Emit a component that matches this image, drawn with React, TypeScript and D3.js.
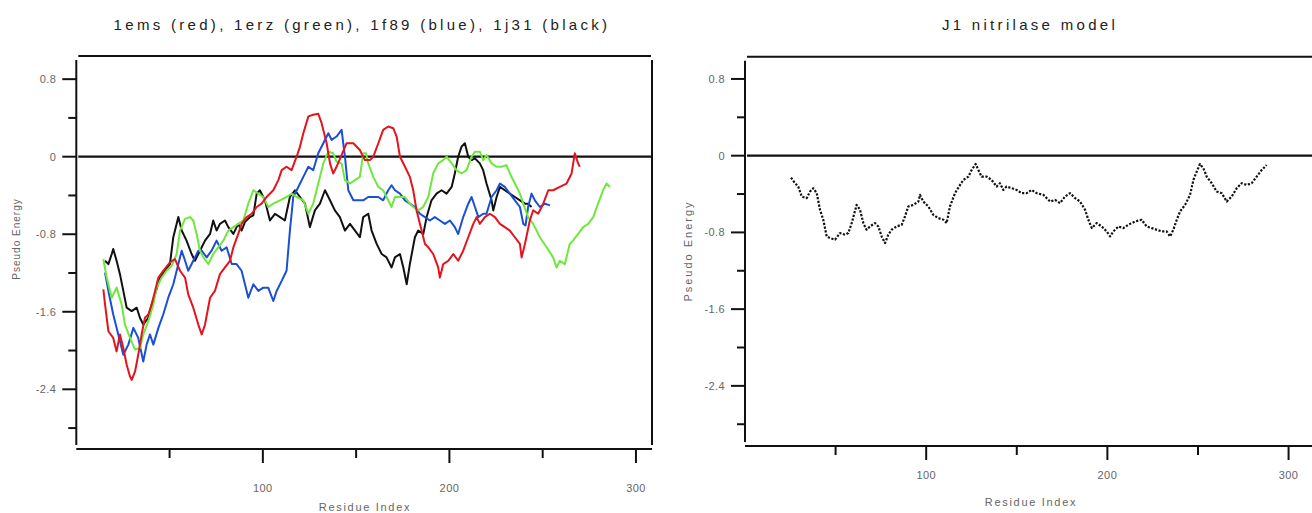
import React from "react";
import * as d3 from "d3";

// ---------- data (residue index, pseudo energy) ----------
const redRes = [14.5,15.4,17.2,19.8,21.6,23.4,25.2,27.0,28.8,29.7,31.5,33.2,35.0,36.8,38.6,40.4,42.2,44.0,46.6,50.2,52.9,55.6,58.3,60.0,62.7,65.4,67.2,69.0,71.7,74.3,77.0,79.7,82.4,84.2,86.8,88.6,91.3,94.0,96.7,99.3,102.0,105.6,108.3,110.1,112.7,115.4,118.1,119.9,121.7,124.4,127.0,129.7,131.5,134.2,136.0,137.7,139.5,142.2,144.9,148.5,152.0,154.7,157.4,159.2,161.9,164.5,167.2,169.9,171.7,173.5,176.2,178.8,180.6,182.4,185.1,186.9,188.7,191.3,194.0,194.9,196.7,199.4,202.1,204.7,207.4,210.1,212.8,214.6,216.3,219.0,221.7,224.4,227.1,229.7,232.4,235.1,237.8,238.7,240.5,243.1,244.9,247.6,250.3,253.0,255.6,259.2,262.8,265.5,267.2,269.0,269.9];
const redVal = [-1.368,-1.524,-1.801,-1.870,-2.009,-1.835,-1.974,-2.147,-2.268,-2.303,-2.216,-2.043,-1.835,-1.662,-1.628,-1.524,-1.385,-1.247,-1.177,-1.091,-1.056,-1.177,-1.247,-1.420,-1.558,-1.732,-1.835,-1.732,-1.455,-1.385,-1.212,-1.143,-1.074,-0.935,-0.797,-0.693,-0.623,-0.589,-0.519,-0.485,-0.416,-0.346,-0.242,-0.139,-0.104,-0.139,0.0,0.104,0.242,0.416,0.433,0.443,0.346,0.139,-0.069,-0.173,-0.104,0.017,0.139,0.139,0.069,-0.035,-0.035,0.0,0.139,0.277,0.312,0.294,0.208,0.0,-0.104,-0.208,-0.346,-0.554,-0.762,-0.900,-0.935,-1.004,-1.143,-1.247,-1.108,-1.074,-1.004,-1.074,-0.970,-0.831,-0.693,-0.623,-0.693,-0.623,-0.589,-0.623,-0.693,-0.727,-0.762,-0.831,-0.900,-1.039,-0.900,-0.658,-0.554,-0.589,-0.485,-0.346,-0.346,-0.312,-0.277,-0.173,0.035,-0.069,-0.104];

const greenRes = [14.5,16.3,19.0,21.6,24.3,26.1,28.8,31.5,34.1,35.9,38.6,41.3,43.1,45.8,48.4,51.1,53.8,55.6,58.3,60.9,62.7,64.5,66.3,68.1,70.8,73.4,76.1,78.8,81.5,84.2,86.8,89.5,92.2,94.9,97.6,100.2,102.9,105.6,109.2,112.7,115.4,118.1,121.7,124.4,127.0,129.7,132.4,135.1,137.7,139.5,142.2,144.0,146.7,149.4,152.0,153.8,155.3,156.5,159.2,161.9,164.5,167.2,169.0,170.8,173.5,176.2,178.8,180.6,183.3,185.9,188.7,191.3,194.0,196.7,198.5,201.2,203.8,206.5,209.2,211.9,213.7,216.3,218.1,219.9,222.6,225.3,227.9,230.6,232.4,235.1,237.8,239.6,242.2,244.9,248.5,252.1,255.6,257.4,259.2,261.9,264.5,266.3,269.0,271.7,274.4,277.1,279.7,282.4,284.2,286.0];
const greenVal = [-1.056,-1.247,-1.455,-1.351,-1.524,-1.732,-1.870,-1.991,-1.974,-1.835,-1.697,-1.524,-1.351,-1.247,-1.177,-1.126,-1.004,-0.762,-0.641,-0.623,-0.658,-0.797,-0.970,-1.039,-1.108,-1.004,-0.935,-0.866,-0.762,-0.727,-0.693,-0.658,-0.485,-0.346,-0.381,-0.416,-0.519,-0.485,-0.450,-0.416,-0.381,-0.416,-0.450,-0.589,-0.485,-0.277,-0.069,0.052,0.035,-0.052,-0.069,-0.242,-0.277,-0.242,-0.208,0.035,0.035,-0.069,-0.208,-0.312,-0.346,-0.450,-0.519,-0.416,-0.416,-0.416,-0.485,-0.519,-0.554,-0.519,-0.416,-0.173,-0.069,-0.035,0.0,-0.069,-0.139,-0.173,-0.139,0.0,0.052,0.052,-0.035,0.017,-0.069,-0.104,-0.104,-0.087,-0.173,-0.277,-0.381,-0.485,-0.623,-0.693,-0.831,-0.935,-1.039,-1.143,-1.074,-1.108,-0.900,-0.866,-0.797,-0.727,-0.693,-0.623,-0.485,-0.346,-0.277,-0.312];

const blueRes = [15.4,17.2,19.8,22.5,25.2,27.9,30.6,33.2,35.9,37.7,39.5,41.3,44.0,46.6,49.3,52.0,54.7,56.5,58.3,60.0,62.7,65.4,67.2,69.9,72.5,75.2,77.9,80.6,83.3,85.9,88.6,90.4,92.2,94.9,97.6,100.2,102.9,105.6,107.4,110.1,112.7,114.5,116.3,119.0,121.7,124.4,127.0,129.7,132.4,135.1,136.9,139.5,142.2,144.0,145.8,148.5,152.0,153.8,156.5,159.2,161.9,164.5,167.2,169.0,170.8,173.5,176.2,178.8,181.5,184.2,186.9,189.5,192.2,194.9,197.6,200.3,202.9,204.7,207.4,210.1,211.9,213.7,215.5,218.1,219.9,222.6,225.3,227.1,229.7,232.4,235.1,237.8,239.6,240.8,242.2,244.0,245.8,248.5,251.2,253.9];
const blueVal = [-1.195,-1.385,-1.628,-1.835,-2.043,-1.939,-1.766,-1.870,-2.113,-1.939,-1.835,-1.939,-1.766,-1.628,-1.455,-1.316,-1.108,-0.970,-1.074,-1.177,-1.074,-0.970,-0.970,-1.039,-0.970,-0.866,-0.970,-0.935,-1.108,-1.108,-1.177,-1.316,-1.455,-1.316,-1.385,-1.351,-1.351,-1.489,-1.385,-1.281,-1.177,-0.762,-0.416,-0.312,-0.208,-0.104,-0.139,0.035,0.139,0.242,0.173,0.208,0.277,0.0,-0.346,-0.450,-0.450,-0.450,-0.416,-0.416,-0.416,-0.450,-0.346,-0.294,-0.346,-0.381,-0.450,-0.485,-0.519,-0.589,-0.623,-0.658,-0.623,-0.658,-0.693,-0.658,-0.727,-0.797,-0.623,-0.485,-0.416,-0.519,-0.623,-0.589,-0.589,-0.416,-0.346,-0.277,-0.312,-0.381,-0.450,-0.519,-0.693,-0.710,-0.519,-0.381,-0.450,-0.519,-0.485,-0.502];

const blackRes = [15.4,17.2,19.0,19.8,21.6,23.4,25.2,27.0,29.7,32.4,34.1,35.9,38.6,40.4,42.2,44.9,47.5,50.2,52.0,54.7,56.5,59.1,61.8,63.6,66.3,69.0,71.7,73.4,75.2,77.0,79.7,81.5,84.2,86.8,88.6,90.4,93.1,94.9,96.7,98.4,101.1,103.8,106.5,109.2,111.8,114.5,117.2,119.9,122.6,125.2,127.9,130.6,133.3,136.0,138.6,141.3,144.0,146.7,149.4,152.0,153.8,156.5,158.3,161.0,163.7,166.3,169.0,170.8,173.5,175.3,177.1,178.8,181.5,183.3,186.0,187.8,190.4,193.1,195.8,198.5,201.2,202.9,204.7,206.5,208.3,210.1,211.9,213.7,216.3,218.1,219.9,222.6,223.5,225.3,227.1,229.7,232.4,235.1,237.8,240.5,242.2,244.0];
const blackVal = [-1.074,-1.108,-1.004,-0.952,-1.074,-1.212,-1.385,-1.558,-1.593,-1.558,-1.662,-1.732,-1.662,-1.524,-1.420,-1.247,-1.177,-1.108,-0.831,-0.623,-0.762,-0.866,-1.004,-1.074,-0.970,-0.866,-0.797,-0.658,-0.762,-0.693,-0.658,-0.727,-0.797,-0.693,-0.762,-0.675,-0.623,-0.606,-0.381,-0.346,-0.450,-0.658,-0.589,-0.623,-0.658,-0.416,-0.346,-0.416,-0.485,-0.727,-0.554,-0.485,-0.346,-0.450,-0.554,-0.623,-0.762,-0.693,-0.762,-0.831,-0.623,-0.589,-0.762,-0.900,-1.004,-1.039,-1.143,-1.039,-1.004,-1.143,-1.316,-1.108,-0.831,-0.762,-0.797,-0.623,-0.450,-0.381,-0.346,-0.381,-0.312,-0.173,0.0,0.104,0.139,0.0,-0.035,-0.017,-0.069,-0.139,-0.277,-0.450,-0.554,-0.416,-0.312,-0.346,-0.381,-0.416,-0.450,-0.485,-0.485,-0.519];

const j1Res = [25.4,27.6,29.4,31.3,34.0,35.9,37.7,39.6,41.4,43.2,45.1,46.9,49.7,52.4,55.2,57.0,58.9,61.6,63.5,65.3,67.1,69.0,71.7,73.6,75.4,77.3,79.1,80.9,83.7,86.5,88.3,90.1,92.9,95.7,96.6,98.4,101.2,103.9,106.7,109.5,111.3,113.1,115.9,118.7,120.5,123.3,125.1,127.3,128.8,130.6,133.4,136.1,138.9,140.7,142.6,144.4,147.2,149.9,152.7,155.5,158.2,161.0,164.7,168.4,171.1,173.9,176.6,179.4,182.2,184.9,187.7,189.5,191.4,194.1,196.9,199.6,201.5,203.3,206.1,208.8,211.6,215.3,218.9,221.7,224.5,227.2,230.0,232.7,234.6,236.4,238.3,240.1,242.9,245.6,247.5,249.3,251.1,253.0,254.8,257.6,260.3,263.1,265.9,268.6,271.4,274.1,276.9,279.7,282.4,285.2,287.9];
const j1Val = [-0.229,-0.287,-0.322,-0.426,-0.443,-0.374,-0.339,-0.391,-0.565,-0.668,-0.842,-0.859,-0.876,-0.807,-0.824,-0.807,-0.703,-0.513,-0.565,-0.703,-0.772,-0.738,-0.703,-0.738,-0.842,-0.911,-0.824,-0.772,-0.738,-0.720,-0.634,-0.530,-0.513,-0.478,-0.409,-0.478,-0.530,-0.616,-0.651,-0.668,-0.703,-0.530,-0.391,-0.305,-0.253,-0.218,-0.149,-0.087,-0.149,-0.218,-0.218,-0.253,-0.322,-0.287,-0.357,-0.322,-0.339,-0.357,-0.391,-0.391,-0.357,-0.391,-0.409,-0.478,-0.461,-0.495,-0.426,-0.391,-0.443,-0.478,-0.565,-0.668,-0.755,-0.703,-0.738,-0.790,-0.842,-0.790,-0.738,-0.755,-0.720,-0.686,-0.668,-0.738,-0.755,-0.772,-0.790,-0.790,-0.842,-0.772,-0.668,-0.582,-0.513,-0.409,-0.253,-0.166,-0.087,-0.132,-0.218,-0.287,-0.374,-0.391,-0.478,-0.426,-0.339,-0.287,-0.305,-0.287,-0.218,-0.149,-0.097];

const yMajorTicks = [0.8, 0, -0.8, -1.6, -2.4];
const yTickLabels = ["0.8", "0", "-0.8", "-1.6", "-2.4"];
const yMinorTicks = [0.4, -0.4, -1.2, -2.0, -2.8];
const xMajorTicks = [100, 200, 300];
const xTickLabels = ["100", "200", "300"];
const xMinorTicks = [50, 150, 250];

const leftTitle = "1ems (red), 1erz (green), 1f89 (blue), 1j31 (black)";
const rightTitle = "J1 nitrilase model";
const xLabel = "Residue Index";
const yLabel = "Pseudo Energy";

type Series = { res: number[]; val: number[]; color: string; dash?: string; width: number };

type PanelProps = {
  x0: number; x1: number; xMax: number;
  yTop: number; yBot: number; yMin: number; yMax: number;
  title: string; titleX: number;
  series: Series[];
  tickLabelY: number; xLabelY: number; xLabelX: number;
  yLabelX: number; yLabelY: number; yLabelSpacing: number; yLabelSize: number;
};

const FONT = "'Liberation Sans', Arial, sans-serif";

function Panel(p: PanelProps) {
  const x = d3.scaleLinear().domain([0, p.xMax]).range([p.x0, p.x1]);
  const y = d3.scaleLinear().domain([p.yMin, p.yMax]).range([p.yBot, p.yTop]);
  const line = d3.line<[number, number]>().x((d) => x(d[0])).y((d) => y(d[1]));
  return (
    <g>
      <text x={p.titleX} y={30} textAnchor="middle" fontFamily={FONT} fontSize={15} letterSpacing={3.3} fill="#222">{p.title}</text>
      {/* frame */}
      <line x1={p.x0 + 2} x2={p.x1 - 1} y1={p.yTop} y2={p.yTop} stroke="#111" strokeWidth={2} />
      <line x1={p.x0} x2={p.x0} y1={p.yTop + 4} y2={p.yBot - 4} stroke="#111" strokeWidth={2} />
      <line x1={p.x1} x2={p.x1} y1={p.yTop + 4} y2={p.yBot - 4} stroke="#111" strokeWidth={2} />
      <line x1={p.x0} x2={p.x1} y1={p.yBot} y2={p.yBot} stroke="#111" strokeWidth={2} />
      {/* zero line */}
      <line x1={p.x0 + 2} x2={p.x1 - 1} y1={y(0)} y2={y(0)} stroke="#111" strokeWidth={2.2} />
      {/* y ticks */}
      {yMajorTicks.map((t, i) => (
        <g key={"ym" + i}>
          <line x1={p.x0 - 14} x2={p.x0} y1={y(t)} y2={y(t)} stroke="#111" strokeWidth={2} />
          <text x={p.x0 - 20} y={y(t)} dy="0.35em" textAnchor="end" fontFamily={FONT} fontSize={11} letterSpacing={0.4} fill="#666">{yTickLabels[i]}</text>
        </g>
      ))}
      {yMinorTicks.map((t, i) => (
        <line key={"yn" + i} x1={p.x0 - 8} x2={p.x0} y1={y(t)} y2={y(t)} stroke="#111" strokeWidth={2} />
      ))}
      {/* x ticks */}
      {xMajorTicks.map((t, i) => (
        <g key={"xm" + i}>
          <line x1={x(t)} x2={x(t)} y1={p.yBot} y2={p.yBot + 14} stroke="#111" strokeWidth={2} />
          <text x={x(t)} y={p.tickLabelY} dy="0.35em" textAnchor="middle" fontFamily={FONT} fontSize={11} letterSpacing={0.4} fill="#666">{xTickLabels[i]}</text>
        </g>
      ))}
      {xMinorTicks.map((t, i) => (
        <line key={"xn" + i} x1={x(t)} x2={x(t)} y1={p.yBot} y2={p.yBot + 9} stroke="#111" strokeWidth={2} />
      ))}
      <text x={p.xLabelX} y={p.xLabelY} dy="0.35em" textAnchor="middle" fontFamily={FONT} fontSize={11} letterSpacing={1.7} fill="#666">{xLabel}</text>
      <text transform={`translate(${p.yLabelX},${p.yLabelY}) rotate(-90)`} dy="0.35em" textAnchor="middle" fontFamily={FONT} fontSize={p.yLabelSize} letterSpacing={p.yLabelSpacing} fill="#666">{yLabel}</text>
      {/* series */}
      {p.series.map((s, i) => (
        <path key={"s" + i} d={line(s.res.map((r, k) => [r, s.val[k]] as [number, number])) || ""} fill="none" stroke={s.color} strokeWidth={s.width} strokeDasharray={s.dash} strokeLinejoin="round" />
      ))}
    </g>
  );
}

export default function App() {
  const leftSeries: Series[] = [
    { res: blackRes, val: blackVal, color: "#111111", width: 2 },
    { res: blueRes, val: blueVal, color: "#1a4fd6", width: 2 },
    { res: greenRes, val: greenVal, color: "#6ee83c", width: 2 },
    { res: redRes, val: redVal, color: "#e4141e", width: 2 },
  ];
  const rightSeries: Series[] = [
    { res: j1Res, val: j1Val, color: "#111111", width: 2.2, dash: "2.2,1.6" },
  ];
  return (
    <svg width={1312} height={513} style={{ position: "absolute", left: 0, top: 0, background: "#fff" }}>
      <rect x={0} y={0} width={1312} height={513} fill="#fff" />
      <Panel x0={76.3} x1={652} xMax={308.6} yTop={56} yBot={449} yMin={-3.016} yMax={1.039}
        title={leftTitle} titleX={362} series={leftSeries} tickLabelY={488} xLabelY={507} xLabelX={365}
        yLabelX={16} yLabelY={239} yLabelSpacing={1} yLabelSize={10} />
      <Panel x0={745} x1={1321} xMax={317.9} yTop={56.7} yBot={446} yMin={-3.027} yMax={1.032}
        title={rightTitle} titleX={1030} series={rightSeries} tickLabelY={475} xLabelY={502} xLabelX={1031}
        yLabelX={688} yLabelY={251} yLabelSpacing={2} yLabelSize={11} />
    </svg>
  );
}
